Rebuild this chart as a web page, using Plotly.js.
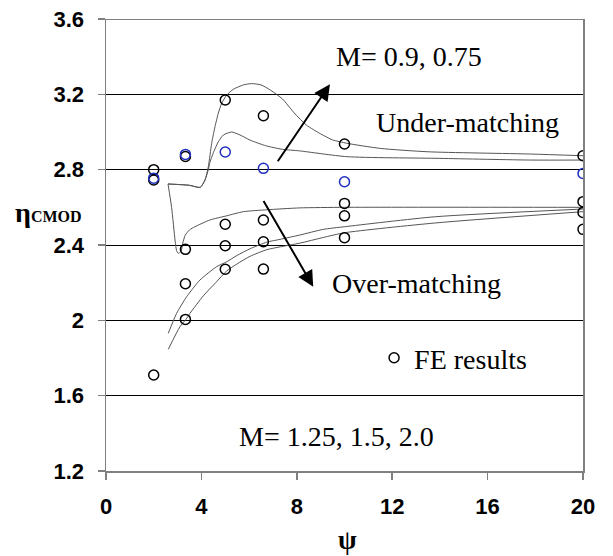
<!DOCTYPE html>
<html>
<head>
<meta charset="utf-8">
<script src="https://cdn.plot.ly/plotly-3.0.1.min.js"></script>
<style>html,body{margin:0;padding:0;background:#fff;}#chart{width:613px;height:556px;}</style>
</head>
<body>
<div id="chart"></div>
<script>
// FE results (black markers)
var fePsiBlack = [2, 2, 2, 3.33, 3.33, 3.33, 3.33, 5, 5, 5, 5, 6.6, 6.6, 6.6, 6.6, 10, 10, 10, 10, 20, 20, 20, 20];
var feEtaBlack = [2.80, 2.745, 1.71, 2.87, 2.377, 2.194, 2.005, 3.17, 2.51, 2.396, 2.271, 3.086, 2.533, 2.417, 2.272, 2.936, 2.621, 2.555, 2.439, 2.874, 2.63, 2.573, 2.483];
// FE results (blue markers)
var fePsiBlue = [2, 3.33, 5, 6.6, 10, 20];
var feEtaBlue = [2.755, 2.881, 2.894, 2.807, 2.736, 2.78];

// Curves, under-matching (M = 0.9, 0.75)
var u1Psi = [2.6, 3.5, 3.95, 4.15, 4.29, 4.43, 4.57, 4.71, 4.85, 5.06, 5.34, 5.76, 6.1, 6.5, 6.9, 7.4, 7.9, 8.4, 9.0, 9.5, 10.1, 11.5, 13.5, 17.8, 20];
var u1Eta = [2.724, 2.717, 2.706, 2.745, 2.816, 2.94, 3.028, 3.10, 3.152, 3.196, 3.227, 3.25, 3.257, 3.25, 3.222, 3.175, 3.10, 3.037, 2.99, 2.958, 2.94, 2.913, 2.895, 2.883, 2.874];
var u2Psi = [2.6, 3.5, 3.95, 4.15, 4.29, 4.36, 4.5, 4.71, 4.92, 5.27, 5.62, 6.04, 6.7, 7.4, 8.1, 10.1, 14, 17.8, 20];
var u2Eta = [2.724, 2.717, 2.706, 2.745, 2.80, 2.84, 2.89, 2.948, 2.984, 3.0, 2.984, 2.957, 2.927, 2.908, 2.90, 2.869, 2.86, 2.851, 2.851];
// Curves, over-matching (M = 1.25, 1.5, 2.0)
var o1Psi = [2.6, 2.75, 2.9, 2.96, 3.03, 3.14, 3.22, 3.32, 3.5, 3.73, 4.36, 5.06, 5.76, 6.74, 8.13, 10, 20];
var o1Eta = [2.724, 2.6, 2.42, 2.37, 2.356, 2.365, 2.41, 2.452, 2.48, 2.497, 2.533, 2.555, 2.577, 2.587, 2.597, 2.6, 2.6];
var o2Psi = [2.61, 2.96, 3.38, 3.94, 4.64, 5.06, 5.5, 6.04, 6.74, 7.3, 8.13, 9.11, 10, 13.8, 20];
var o2Eta = [1.931, 2.037, 2.125, 2.214, 2.285, 2.311, 2.345, 2.38, 2.415, 2.43, 2.453, 2.483, 2.497, 2.55, 2.591];
var o3Psi = [2.61, 3.10, 3.35, 3.52, 4.08, 4.6, 5.06, 5.5, 6.04, 6.74, 7.3, 8.13, 9.11, 10, 13.8, 20];
var o3Eta = [1.846, 1.966, 2.005, 2.037, 2.13, 2.2, 2.262, 2.3, 2.34, 2.375, 2.39, 2.41, 2.44, 2.465, 2.517, 2.577];

var xTicks = [0, 4, 8, 12, 16, 20];
var yTicks = [1.2, 1.6, 2.0, 2.4, 2.8, 3.2, 3.6];
var yTickText = ['1.2', '1.6', '2', '2.4', '2.8', '3.2', '3.6'];

var curveStyle = {color: '#555555', width: 1, shape: 'spline', smoothing: 0.6};
function curve(px, py) {
  return {x: px, y: py, mode: 'lines', line: curveStyle, showlegend: false, hoverinfo: 'skip'};
}

var traces = [
  curve(u1Psi, u1Eta), curve(u2Psi, u2Eta), curve(o1Psi, o1Eta), curve(o2Psi, o2Eta), curve(o3Psi, o3Eta),
  {x: fePsiBlack, y: feEtaBlack, mode: 'markers', name: 'FE results',
   marker: {symbol: 'circle-open', size: 10, color: '#000000', line: {width: 1.5, color: '#000000'}}, showlegend: true},
  {x: fePsiBlue, y: feEtaBlue, mode: 'markers', name: 'FE blue',
   marker: {symbol: 'circle-open', size: 10, color: '#1f2fc0', line: {width: 1.5, color: '#1f2fc0'}}, showlegend: false}
];

var serif = 'Liberation Serif, Times New Roman, serif';
var sans = 'Liberation Sans, Arial, sans-serif';
var txt = {family: serif, size: 28, color: '#000'};

var layout = {
  width: 613, height: 556,
  margin: {l: 106, r: 30, t: 19, b: 85},
  paper_bgcolor: '#ffffff', plot_bgcolor: '#ffffff',
  showlegend: true,
  legend: {x: 0.562, xanchor: 'left', y: 0.25, yanchor: 'middle', bgcolor: 'rgba(0,0,0,0)',
           font: txt},
  xaxis: {range: [0, 20], tickvals: xTicks, ticktext: xTicks.map(String),
          showgrid: false, zeroline: false, showline: true, linecolor: '#808080', linewidth: 1.5,
          ticks: 'outside', ticklen: 7, tickcolor: '#808080', tickwidth: 1.5, ticklabelstandoff: 8,
          tickfont: {family: sans, size: 22, color: '#000', weight: 'bold'}},
  yaxis: {range: [1.2, 3.6], tickvals: yTicks, ticktext: yTickText,
          showgrid: true, gridcolor: '#000000', gridwidth: 1, zeroline: false,
          showline: true, linecolor: '#808080', linewidth: 1.5, mirror: true,
          ticks: 'outside', ticklen: 7, tickcolor: '#808080', tickwidth: 1.5, ticklabelstandoff: 9,
          tickfont: {family: sans, size: 22, color: '#000', weight: 'bold'}},
  shapes: [
    {type: 'line', xref: 'paper', yref: 'y', x0: 0, x1: 1, y0: 3.6, y1: 3.6, line: {color: '#000', width: 1}}
  ],
  annotations: [
    {x: 9.39, y: 3.253, ax: 7.16, ay: 2.837, xref: 'x', yref: 'y', axref: 'x', ayref: 'y',
     text: '', showarrow: true, arrowhead: 2, arrowsize: 1.6, arrowwidth: 2, arrowcolor: '#000'},
    {x: 8.69, y: 2.178, ax: 6.57, ay: 2.642, xref: 'x', yref: 'y', axref: 'x', ayref: 'y',
     text: '', showarrow: true, arrowhead: 2, arrowsize: 1.6, arrowwidth: 2, arrowcolor: '#000'},
    {x: 12.7, y: 3.40, xref: 'x', yref: 'y', yanchor: 'middle', text: 'M= 0.9, 0.75', showarrow: false, font: txt},
    {x: 15.15, y: 3.05, xref: 'x', yref: 'y', yanchor: 'middle', text: 'Under-matching', showarrow: false, font: txt},
    {x: 13.0, y: 2.195, xref: 'x', yref: 'y', yanchor: 'middle', text: 'Over-matching', showarrow: false, font: txt},
    {x: 9.65, y: 1.385, xref: 'x', yref: 'y', yanchor: 'middle', text: 'M= 1.25, 1.5, 2.0', showarrow: false, font: txt},
    {x: 0.507, y: -0.153, xref: 'paper', yref: 'paper', yanchor: 'middle', xanchor: 'center',
     text: '<b>ψ</b>', showarrow: false, font: {family: serif, size: 27, color: '#000'}},
    {x: -0.195, y: 0.571, xref: 'paper', yref: 'paper', yanchor: 'middle', xanchor: 'left',
     text: '<b>η</b><b><span style="font-size:16px">CMOD</span></b>', showarrow: false,
     font: {family: serif, size: 28, color: '#000'}}
  ]
};

Plotly.newPlot('chart', traces, layout, {staticPlot: true, displayModeBar: false});
</script>
</body>
</html>
